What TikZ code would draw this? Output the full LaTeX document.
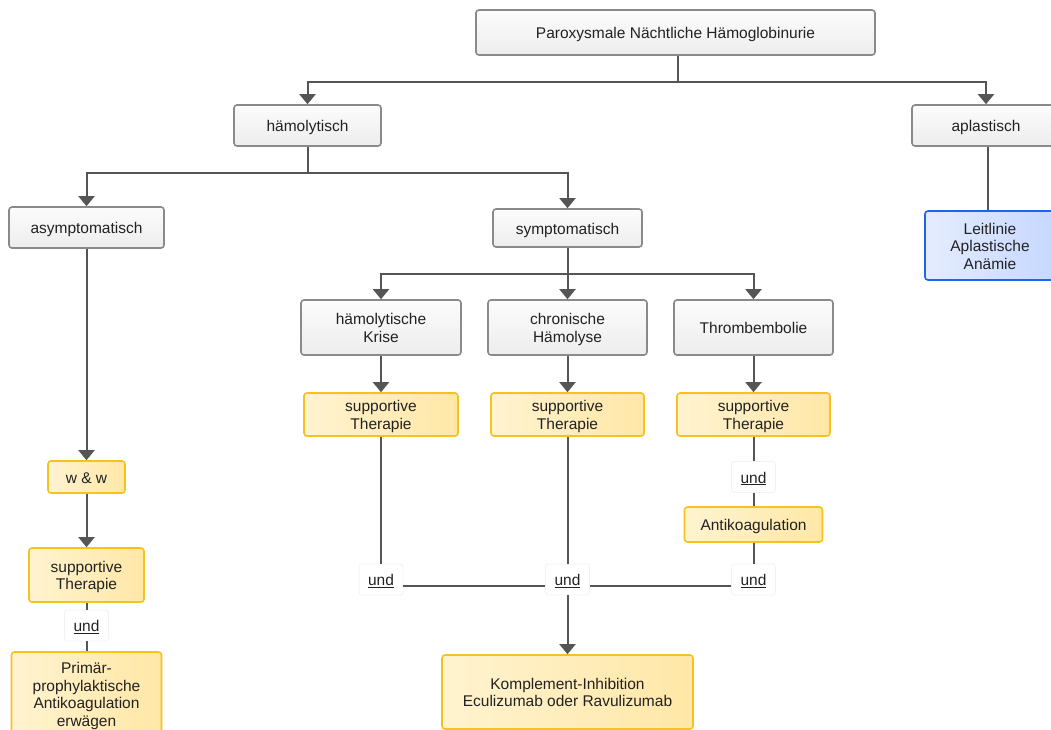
\documentclass[tikz,border=0pt]{standalone}
\usepackage{fontspec}
\setmainfont{Liberation Sans}
\usetikzlibrary{arrows.meta,positioning}
\definecolor{lineg}{HTML}{555555}
\definecolor{gborder}{HTML}{8A8A8A}
\definecolor{gtop}{HTML}{FCFCFC}
\definecolor{gbot}{HTML}{EDEDED}
\definecolor{yborder}{HTML}{F8C21C}
\definecolor{yleft}{HTML}{FFF3D0}
\definecolor{yright}{HTML}{FFE7A6}
\definecolor{bborder}{HTML}{1F63F0}
\definecolor{bleft}{HTML}{E4ECFF}
\definecolor{bright}{HTML}{C6D8FF}
\definecolor{txt}{HTML}{222222}
\tikzset{
  base/.style={rounded corners=3pt, inner sep=0pt, text=txt,
    font=\fontsize{15.5}{17.5}\selectfont},
  gbox/.style={base, draw=gborder, line width=1.6pt, top color=gtop, bottom color=gbot},
  ybox/.style={base, draw=yborder, line width=1.6pt, left color=yleft, right color=yright},
  bbox/.style={base, draw=bborder, line width=1.6pt, left color=bleft, right color=bright},
  undbox/.style={base, draw=black!5, line width=0.8pt, fill=white, minimum width=44pt, minimum height=31pt},
  conn/.style={draw=lineg, line width=2pt},
  arr/.style={conn, -{Triangle[width=16pt,length=10pt]}},
}
\newcommand{\T}[1]{\raisebox{-2.5pt}[\height][\depth]{\begin{tabular}{@{}c@{}}#1\end{tabular}}}
\newcommand{\und}{\T{\underline{und}}}
\begin{document}
\begin{tikzpicture}[x=1pt,y=-1pt]
\useasboundingbox (0,0) rectangle (1051,729);
\clip (0,0) rectangle (1051,729);
\fill[white] (0,0) rectangle (1051,729);

% nodes
\node[gbox, minimum width=399pt, minimum height=45pt] (pnh) at (675.5,32.5) {\T{Paroxysmale Nächtliche Hämoglobinurie}};
\node[gbox, minimum width=147pt, minimum height=41pt] (haem) at (307.5,125.5) {\T{hämolytisch}};
\node[gbox, minimum width=148pt, minimum height=41pt] (apl) at (986,125.5) {\T{aplastisch}};
\node[bbox, minimum width=130pt, minimum height=69pt] (leit) at (990,245.5) {\T{Leitlinie\\Aplastische\\Anämie}};
\node[gbox, minimum width=155pt, minimum height=41pt] (asym) at (86.5,227.5) {\T{asymptomatisch}};
\node[gbox, minimum width=149pt, minimum height=38pt] (sym) at (567.5,228) {\T{symptomatisch}};
\node[gbox, minimum width=160pt, minimum height=55pt] (krise) at (381,327.5) {\T{hämolytische\\Krise}};
\node[gbox, minimum width=159pt, minimum height=55pt] (chron) at (567.5,327.5) {\T{chronische\\Hämolyse}};
\node[gbox, minimum width=159pt, minimum height=55pt] (thromb) at (753.5,327.5) {\T{Thrombembolie}};
\node[ybox, minimum width=154pt, minimum height=43pt] (st1) at (381,414.5) {\T{supportive\\Therapie}};
\node[ybox, minimum width=153pt, minimum height=43pt] (st2) at (567.5,414.5) {\T{supportive\\Therapie}};
\node[ybox, minimum width=153pt, minimum height=43pt] (st3) at (753.5,414.5) {\T{supportive\\Therapie}};
\node[undbox] (undt) at (753.5,477) {\und};
\node[ybox, minimum width=138pt, minimum height=35pt] (antik) at (753.5,524.5) {\T{Antikoagulation}};
\node[undbox] (und1) at (381,579.5) {\und};
\node[undbox] (und2) at (567.5,579.5) {\und};
\node[undbox] (und3) at (753.5,579.5) {\und};
\node[ybox, minimum width=251pt, minimum height=74pt] (komp) at (567.5,692) {\T{Komplement-Inhibition\\Eculizumab oder Ravulizumab}};
\node[ybox, minimum width=77pt, minimum height=32pt] (ww) at (86.5,477) {\T{w \& w}};
\node[ybox, minimum width=115pt, minimum height=54pt] (stl) at (86.5,575) {\T{supportive\\Therapie}};
\node[undbox] (undl) at (86.5,625.5) {\und};
\node[ybox, minimum width=150pt, minimum height=84pt] (prim) at (86.5,694) {\T{Primär-\\prophylaktische\\Antikoagulation\\erwägen}};

% connectors
\draw[arr] ([xshift=2.5pt]pnh.south) -- ++(0,26) -| (haem.north);
\draw[arr] ([xshift=2.5pt]pnh.south) -- ++(0,26) -| (apl.north);
\draw[conn] ([xshift=2pt]apl.south) -- ([xshift=-2pt]leit.north);
\draw[arr] (haem.south) -- ++(0,26) -| (asym.north);
\draw[arr] (haem.south) -- ++(0,26) -| (sym.north);
\draw[arr] (sym.south) -- ++(0,26) -| (krise.north);
\draw[arr] (sym.south) -- (chron.north);
\draw[arr] (sym.south) -- ++(0,26) -| (thromb.north);
\draw[arr] (krise.south) -- (st1.north);
\draw[arr] (chron.south) -- (st2.north);
\draw[arr] (thromb.south) -- (st3.north);
\draw[conn] (st1.south) -- (und1.north);
\draw[conn] (st2.south) -- (und2.north);
\draw[conn] (st3.south) -- (undt.north);
\draw[conn] (undt.south) -- (antik.north);
\draw[conn] (antik.south) -- (und3.north);
\draw[conn] ([yshift=-6.5pt]und1.east) -- ([yshift=-6.5pt]und2.west);
\draw[conn] ([yshift=-6.5pt]und3.west) -- ([yshift=-6.5pt]und2.east);
\draw[arr] (und2.south) -- (komp.north);
\draw[arr] (asym.south) -- (ww.north);
\draw[arr] (ww.south) -- (stl.north);
\draw[conn] (stl.south) -- (undl.north);
\draw[conn] (undl.south) -- (prim.north);
\end{tikzpicture}
\end{document}
